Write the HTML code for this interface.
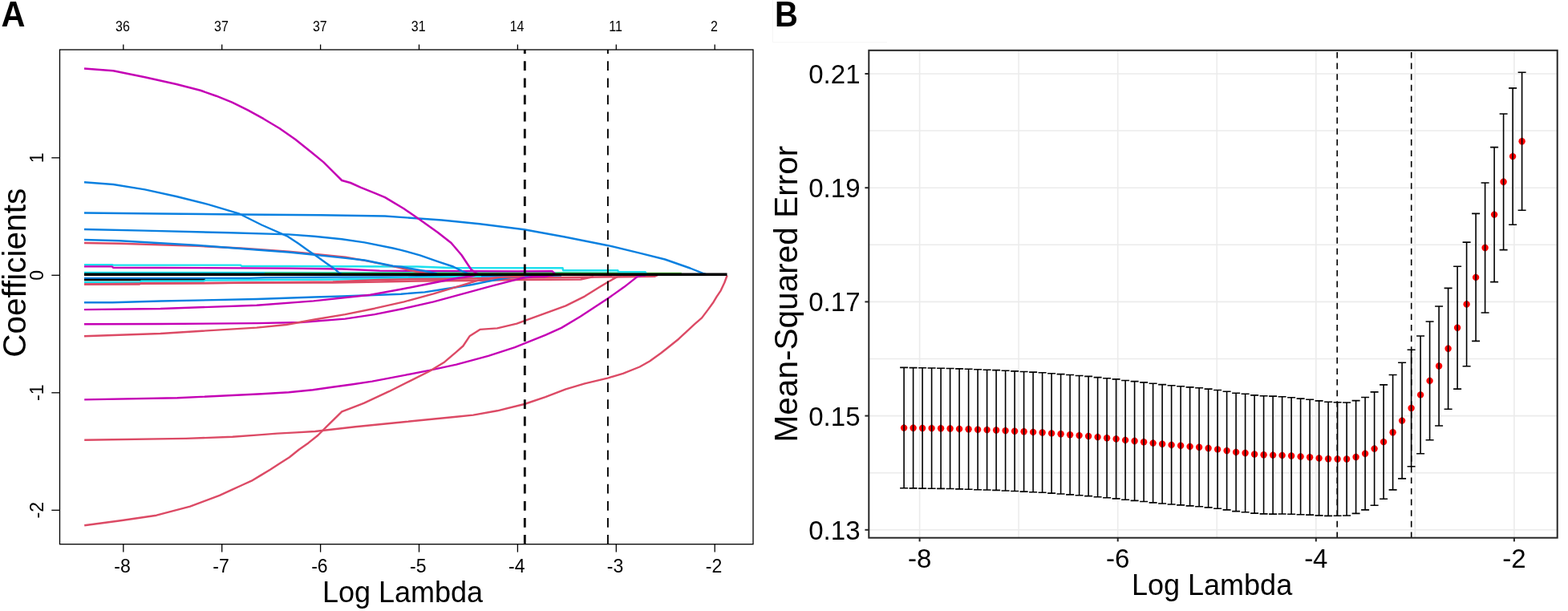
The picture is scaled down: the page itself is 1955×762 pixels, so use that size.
<!DOCTYPE html>
<html><head><meta charset="utf-8"><title>LASSO</title>
<style>html,body{margin:0;padding:0;background:#fff;}body{width:1955px;height:762px;overflow:hidden;position:relative;}</style>
</head><body>
<svg width="1955" height="762" viewBox="0 0 1955 762" style="position:absolute;left:0;top:0">
<rect width="1955" height="762" fill="#fff"/>
<path d="M963.5 0V52.8H1106" fill="none" stroke="#F5F5F5" stroke-width="1"/>
<g stroke-linecap="butt">
<polyline points="105,340 700,340.2 806,340.6" fill="none" stroke="#1CE0EE" stroke-width="2.4" stroke-linejoin="round" />
<polyline points="330,340.6 688,340.4 849.8,340.6" fill="none" stroke="#66E04A" stroke-width="1.6" stroke-linejoin="round" />
<polyline points="105,346.9 311,346.9 330,346.2 420,345.6 520,345.3 578,345.3 600,344.5 660,344.2 700,343.5" fill="none" stroke="#0A80E0" stroke-width="2.4" stroke-linejoin="round" />
<polyline points="105,349 256,349" fill="none" stroke="#000000" stroke-width="2.4" stroke-linejoin="round" />
<polyline points="105,352 174,352 176,350.5 254,350.5 256,349.5 311,349.2 420,348.5 560,345.5 600,344.5" fill="none" stroke="#1CE0EE" stroke-width="2.4" stroke-linejoin="round" />
<polyline points="105,354.4 174,354.4 176,353.3 320,352.6 415,352.5 472,351.5 520,350.5 583,350 640,349 724,348.5 740,345" fill="none" stroke="#DC4A65" stroke-width="2.5" stroke-linejoin="round" />
<polyline points="105,354.4 174,353.8 276,353 320,352.4 415,351.4 472,349.1 520,347.9 583,347.6 640,346.5 724,345.8 816,344.8 820,343" fill="none" stroke="#DC4A65" stroke-width="2.5" stroke-linejoin="round" />
<polyline points="640,345 661.5,345 678.7,345 690,343" fill="none" stroke="#C400B5" stroke-width="2.4" stroke-linejoin="round" />
<polyline points="105,330.2 140,330.2 141,330.6 300,330.6 301,331.8 360,332 520,332.5 560,334 701.6,334.3 702,337.2 770.3,337.2 771,339.3 804.7,339.3 806,341.5" fill="none" stroke="#1CE0EE" stroke-width="2.4" stroke-linejoin="round" />
<polyline points="105,332.4 140,332.4 141,333.7 360,334.6 426.1,335.5 473.4,337.6 520,337.9 645,338.4 688.7,338.3 692,341.5" fill="none" stroke="#C400B5" stroke-width="2.4" stroke-linejoin="round" />
<polyline points="105,303 150,303.8 247.5,306.9 300,309.5 360,313.7 378.9,315.4 430.8,320.7 454.5,324.9 478.1,329.6 500,334.3 520,339 535,341.5" fill="none" stroke="#DC4A65" stroke-width="2.4" stroke-linejoin="round" />
<polyline points="105,299 149,300.2 247.5,306 326.2,312 360,314.5 409.6,319.6 430.8,321.9 454.5,324.5 490,331.7 500,332.8 529.5,338 545,341.5" fill="none" stroke="#0A80E0" stroke-width="2.4" stroke-linejoin="round" />
<polyline points="105,286 180,287.6 286.9,290.3 360,292.4 391.9,294.8 426.1,298.3 454.5,302.4 489.9,309.5 500,311.8 523.6,318.3 547.2,326.6 565,332.5 576.7,338.4 582.7,340.8 586,342" fill="none" stroke="#0A80E0" stroke-width="2.4" stroke-linejoin="round" />
<polyline points="105,265.5 200,266.5 300,267.5 400,268.3 480,269.5 550.9,274.5 598.1,279.2 653.6,286.3 703,295.2 758.2,306.2 797.6,315.6 829.1,323.5 860.6,334.5 876.4,340.8 880,342" fill="none" stroke="#0A80E0" stroke-width="2.4" stroke-linejoin="round" />
<polyline points="105,227.3 141.2,230 180.6,236.4 219.9,245 259.3,254.9 298.7,266.7 326.2,280.5 357.7,294.3 371.8,303.6 383.6,311.9 395.4,320.1 407.2,328.4 416.7,334.9 422.6,340.2 426,342" fill="none" stroke="#0A80E0" stroke-width="2.4" stroke-linejoin="round" />
<polyline points="105,85.6 141.2,88.3 180.6,96.2 219.9,105 250,112.8 269.7,119.7 289.4,127.6 309.1,137.4 328.7,148.2 348.4,160 368.1,173.8 387.8,189.6 403.5,202.4 417.3,216.1 426.2,225 437,228 450,233.9 468,241.1 480,246.1 503.6,260.3 522.5,273.3 546,290 562.6,303 575.6,318.3 582.7,329 587.4,336 592.1,339.6 596,342" fill="none" stroke="#C400B5" stroke-width="2.5" stroke-linejoin="round" />
<polyline points="105,377.2 140,377.2 200,375.5 320,373 391.9,370.5 426.3,369.5 500,366.7 529.5,364.4 559,359.7 588.6,355 606.3,351.4 629.9,346.7 645.2,344.9 660,343.5 665,342.4" fill="none" stroke="#0A80E0" stroke-width="2.4" stroke-linejoin="round" />
<polyline points="105,386.1 200,385 320,380.8 390.9,375.4 461.7,367.8 500,360.8 535.4,353.8 570.8,346.7 588.6,344.3 595,342.4" fill="none" stroke="#C400B5" stroke-width="2.4" stroke-linejoin="round" />
<polyline points="105,404.3 200,404 320,403.1 375.1,402 430.3,397.6 467,392.1 503.8,384.7 540.5,376.3 577.3,366.4 614,356.4 650.8,346.9 665,345 678.7,344.5 690,342.4" fill="none" stroke="#C400B5" stroke-width="2.4" stroke-linejoin="round" />
<polyline points="105,419.2 200,416 320,408.6 356.8,405 393.5,398.3 430.3,392.1 467,384.7 503.8,376.3 540.5,366.4 577.3,355.3 595.6,349.8 620,346 646.3,345 655,343" fill="none" stroke="#DC4A65" stroke-width="2.4" stroke-linejoin="round" />
<polyline points="105.2,498.4 221.2,496.3 326.2,491.3 360,489.3 390,486.3 414.5,482.8 440,479.3 464,475.6 506,467.6 535.4,461.9 569,454.6 608.9,443.8 642,433.1 653.8,428.4 680,417.8 700,408.9 723.6,394.7 757.9,372.3 778,358.1 794.5,345.1 800,343.5 804.7,343.5" fill="none" stroke="#C400B5" stroke-width="2.4" stroke-linejoin="round" />
<polyline points="105.2,548.8 231.7,546.9 290,544.8 323,542.4 345.5,540.6 369.1,539.4 392.8,538 443,532.3 506,526 569,519.7 590,517.6 620,512.3 653.8,504 680,495.2 705.4,485.4 729,478.3 758.4,471.3 776.7,465.8 797.6,457.5 810,450.5 823.9,440.5 833.1,433.2 846.2,422.7 855.4,414.1 865.9,404.3 875.1,396.4 883,385.9 889.6,376.7 893.5,370.2 898.7,362.3 903.3,352.5 906.6,343.5" fill="none" stroke="#DC4A65" stroke-width="2.4" stroke-linejoin="round" />
<polyline points="105.2,655.3 150.4,649.3 195,642.7 237,631.7 273.7,617.8 290,610.3 301.8,605 313.6,599.7 325.4,592.6 337.2,585.5 349.1,577.8 360.9,570.2 372.7,560.7 384.5,552.4 396.3,543 408.1,531.2 426.2,513.4 453.5,502.9 485,488.2 510.2,475.6 535.4,463 554.3,451.4 569,438.8 577.4,431.5 585.8,418.9 598.4,410.9 620,409.4 644.3,403.6 653.8,400.1 680,390.6 705.4,381.4 729,369.6 747.9,357.8 759.7,350.7 769.2,345.5 775,343" fill="none" stroke="#DC4A65" stroke-width="2.4" stroke-linejoin="round" />
</g>
<line x1="105" y1="342.2" x2="906.5" y2="342.2" stroke="#000" stroke-width="3.4"/>
<line x1="654.3" y1="62" x2="654.3" y2="678.7" stroke="#000" stroke-width="2.8" stroke-dasharray="11.8 9.3" stroke-dashoffset="6.8"/>
<line x1="757.9" y1="62" x2="757.9" y2="678.7" stroke="#000" stroke-width="1.9" stroke-dasharray="11.8 9.3" stroke-dashoffset="6.8"/>
<rect x="74.5" y="62" width="864.5" height="616.7" fill="none" stroke="#000" stroke-width="1.3"/>
<line x1="153.8" y1="678.7" x2="153.8" y2="688.6" stroke="#000" stroke-width="1.3"/>
<text x="152.6" y="713.6" font-size="23" text-anchor="middle" font-family='"Liberation Sans", Arial, Helvetica, sans-serif'>-8</text>
<line x1="276.7" y1="678.7" x2="276.7" y2="688.6" stroke="#000" stroke-width="1.3"/>
<text x="275.5" y="713.6" font-size="23" text-anchor="middle" font-family='"Liberation Sans", Arial, Helvetica, sans-serif'>-7</text>
<line x1="399.6" y1="678.7" x2="399.6" y2="688.6" stroke="#000" stroke-width="1.3"/>
<text x="398.4" y="713.6" font-size="23" text-anchor="middle" font-family='"Liberation Sans", Arial, Helvetica, sans-serif'>-6</text>
<line x1="522.5" y1="678.7" x2="522.5" y2="688.6" stroke="#000" stroke-width="1.3"/>
<text x="521.3" y="713.6" font-size="23" text-anchor="middle" font-family='"Liberation Sans", Arial, Helvetica, sans-serif'>-5</text>
<line x1="645.4" y1="678.7" x2="645.4" y2="688.6" stroke="#000" stroke-width="1.3"/>
<text x="644.2" y="713.6" font-size="23" text-anchor="middle" font-family='"Liberation Sans", Arial, Helvetica, sans-serif'>-4</text>
<line x1="768.3" y1="678.7" x2="768.3" y2="688.6" stroke="#000" stroke-width="1.3"/>
<text x="767.1" y="713.6" font-size="23" text-anchor="middle" font-family='"Liberation Sans", Arial, Helvetica, sans-serif'>-3</text>
<line x1="891.2" y1="678.7" x2="891.2" y2="688.6" stroke="#000" stroke-width="1.3"/>
<text x="890" y="713.6" font-size="23" text-anchor="middle" font-family='"Liberation Sans", Arial, Helvetica, sans-serif'>-2</text>
<line x1="153.8" y1="55.5" x2="153.8" y2="62" stroke="#000" stroke-width="1.3"/>
<text transform="translate(153,38.9) scale(1,1.1)" font-size="16" text-anchor="middle" font-family='"Liberation Sans", Arial, Helvetica, sans-serif'>36</text>
<line x1="276.7" y1="55.5" x2="276.7" y2="62" stroke="#000" stroke-width="1.3"/>
<text transform="translate(275.9,38.9) scale(1,1.1)" font-size="16" text-anchor="middle" font-family='"Liberation Sans", Arial, Helvetica, sans-serif'>37</text>
<line x1="399.6" y1="55.5" x2="399.6" y2="62" stroke="#000" stroke-width="1.3"/>
<text transform="translate(398.8,38.9) scale(1,1.1)" font-size="16" text-anchor="middle" font-family='"Liberation Sans", Arial, Helvetica, sans-serif'>37</text>
<line x1="522.5" y1="55.5" x2="522.5" y2="62" stroke="#000" stroke-width="1.3"/>
<text transform="translate(521.7,38.9) scale(1,1.1)" font-size="16" text-anchor="middle" font-family='"Liberation Sans", Arial, Helvetica, sans-serif'>31</text>
<line x1="645.4" y1="55.5" x2="645.4" y2="62" stroke="#000" stroke-width="1.3"/>
<text transform="translate(644.6,38.9) scale(1,1.1)" font-size="16" text-anchor="middle" font-family='"Liberation Sans", Arial, Helvetica, sans-serif'>14</text>
<line x1="768.3" y1="55.5" x2="768.3" y2="62" stroke="#000" stroke-width="1.3"/>
<text transform="translate(767.5,38.9) scale(1,1.1)" font-size="16" text-anchor="middle" font-family='"Liberation Sans", Arial, Helvetica, sans-serif'>11</text>
<line x1="891.2" y1="55.5" x2="891.2" y2="62" stroke="#000" stroke-width="1.3"/>
<text transform="translate(890.4,38.9) scale(1,1.1)" font-size="16" text-anchor="middle" font-family='"Liberation Sans", Arial, Helvetica, sans-serif'>2</text>
<line x1="64.3" y1="636.3" x2="74.5" y2="636.3" stroke="#000" stroke-width="1.3"/>
<text transform="translate(53.8,636.3) rotate(-90)" font-size="23" text-anchor="middle" font-family='"Liberation Sans", Arial, Helvetica, sans-serif'>-2</text>
<line x1="64.3" y1="489.8" x2="74.5" y2="489.8" stroke="#000" stroke-width="1.3"/>
<text transform="translate(53.8,489.8) rotate(-90)" font-size="23" text-anchor="middle" font-family='"Liberation Sans", Arial, Helvetica, sans-serif'>-1</text>
<line x1="64.3" y1="343.3" x2="74.5" y2="343.3" stroke="#000" stroke-width="1.3"/>
<text transform="translate(53.8,343.3) rotate(-90)" font-size="23" text-anchor="middle" font-family='"Liberation Sans", Arial, Helvetica, sans-serif'>0</text>
<line x1="64.3" y1="196.8" x2="74.5" y2="196.8" stroke="#000" stroke-width="1.3"/>
<text transform="translate(53.8,196.8) rotate(-90)" font-size="23" text-anchor="middle" font-family='"Liberation Sans", Arial, Helvetica, sans-serif'>1</text>
<text x="502" y="750.6" font-size="36" text-anchor="middle" font-family='"Liberation Sans", Arial, Helvetica, sans-serif'>Log Lambda</text>
<text transform="translate(32,340.3) rotate(-90)" font-size="40.5" text-anchor="middle" font-family='"Liberation Sans", Arial, Helvetica, sans-serif'>Coefficients</text>
<text transform="translate(1.5,33) scale(0.965,1.04)" font-size="43" font-weight="bold" font-family='"Liberation Sans", Arial, Helvetica, sans-serif'>A</text>
<line x1="1270.1" y1="62.8" x2="1270.1" y2="670.7" stroke="#EBEBEB" stroke-width="1.5"/>
<line x1="1517.2" y1="62.8" x2="1517.2" y2="670.7" stroke="#EBEBEB" stroke-width="1.5"/>
<line x1="1764.3" y1="62.8" x2="1764.3" y2="670.7" stroke="#EBEBEB" stroke-width="1.5"/>
<line x1="1083.3" y1="163.1" x2="1941.7" y2="163.1" stroke="#EBEBEB" stroke-width="1.5"/>
<line x1="1083.3" y1="305.3" x2="1941.7" y2="305.3" stroke="#EBEBEB" stroke-width="1.5"/>
<line x1="1083.3" y1="447.5" x2="1941.7" y2="447.5" stroke="#EBEBEB" stroke-width="1.5"/>
<line x1="1083.3" y1="589.7" x2="1941.7" y2="589.7" stroke="#EBEBEB" stroke-width="1.5"/>
<line x1="1146.6" y1="62.8" x2="1146.6" y2="670.7" stroke="#EBEBEB" stroke-width="1.6"/>
<line x1="1393.7" y1="62.8" x2="1393.7" y2="670.7" stroke="#EBEBEB" stroke-width="1.6"/>
<line x1="1640.8" y1="62.8" x2="1640.8" y2="670.7" stroke="#EBEBEB" stroke-width="1.6"/>
<line x1="1887.9" y1="62.8" x2="1887.9" y2="670.7" stroke="#EBEBEB" stroke-width="1.6"/>
<line x1="1083.3" y1="92" x2="1941.7" y2="92" stroke="#EBEBEB" stroke-width="1.6"/>
<line x1="1083.3" y1="234.2" x2="1941.7" y2="234.2" stroke="#EBEBEB" stroke-width="1.6"/>
<line x1="1083.3" y1="376.4" x2="1941.7" y2="376.4" stroke="#EBEBEB" stroke-width="1.6"/>
<line x1="1083.3" y1="518.6" x2="1941.7" y2="518.6" stroke="#EBEBEB" stroke-width="1.6"/>
<line x1="1083.3" y1="660.8" x2="1941.7" y2="660.8" stroke="#EBEBEB" stroke-width="1.6"/>
<line x1="1667.2" y1="62.8" x2="1667.2" y2="670.7" stroke="#000" stroke-width="1.6" stroke-dasharray="7.6 6" stroke-dashoffset="-2.2"/>
<line x1="1759.7" y1="62.8" x2="1759.7" y2="670.7" stroke="#000" stroke-width="1.6" stroke-dasharray="7.6 6" stroke-dashoffset="-2.2"/>
<path d="M1127.1 458.4V608.8M1122.1 458.4H1132.1M1122.1 608.8H1132.1M1138.6 458.6V608.9M1133.6 458.6H1143.6M1133.6 608.9H1143.6M1150.1 458.8V609.1M1145.1 458.8H1155.1M1145.1 609.1H1155.1M1161.6 459V609.2M1156.6 459H1166.6M1156.6 609.2H1166.6M1173.1 459.2V609.4M1168.1 459.2H1178.1M1168.1 609.4H1178.1M1184.6 459.5V609.5M1179.6 459.5H1189.6M1179.6 609.5H1189.6M1196.1 459.9V609.9M1191.1 459.9H1201.1M1191.1 609.9H1201.1M1207.6 460.3V610.3M1202.6 460.3H1212.6M1202.6 610.3H1212.6M1219.1 460.7V610.7M1214.1 460.7H1224.1M1214.1 610.7H1224.1M1230.6 461.2V611M1225.6 461.2H1235.6M1225.6 611H1235.6M1242.1 461.6V611.4M1237.1 461.6H1247.1M1237.1 611.4H1247.1M1253.6 462.2V612M1248.6 462.2H1258.6M1248.6 612H1258.6M1265.1 462.9V612.5M1260.1 462.9H1270.1M1260.1 612.5H1270.1M1276.6 463.5V613.1M1271.6 463.5H1281.6M1271.6 613.1H1281.6M1288.1 464.1V613.7M1283.1 464.1H1293.1M1283.1 613.7H1293.1M1299.6 464.8V614.2M1294.6 464.8H1304.6M1294.6 614.2H1304.6M1311.1 465.7V615.1M1306.1 465.7H1316.1M1306.1 615.1H1316.1M1322.6 466.6V616M1317.6 466.6H1327.6M1317.6 616H1327.6M1334.1 467.5V616.9M1329.1 467.5H1339.1M1329.1 616.9H1339.1M1345.6 468.5V617.7M1340.6 468.5H1350.6M1340.6 617.7H1350.6M1357.1 469.4V618.6M1352.1 469.4H1362.1M1352.1 618.6H1362.1M1368.6 470.6V619.7M1363.6 470.6H1373.6M1363.6 619.7H1373.6M1380.1 471.8V620.8M1375.1 471.8H1385.1M1375.1 620.8H1385.1M1391.6 472.9V621.9M1386.6 472.9H1396.6M1386.6 621.9H1396.6M1403.1 474.5V623.3M1398.1 474.5H1408.1M1398.1 623.3H1408.1M1414.6 475.6V624.4M1409.6 475.6H1419.6M1409.6 624.4H1419.6M1426.1 476.9V625.5M1421.1 476.9H1431.1M1421.1 625.5H1431.1M1437.6 478.3V626.9M1432.6 478.3H1442.6M1432.6 626.9H1442.6M1449.1 479.6V628M1444.1 479.6H1454.1M1444.1 628H1454.1M1460.6 480.8V629M1455.6 480.8H1465.6M1455.6 629H1465.6M1472.1 481.7V629.9M1467.1 481.7H1477.1M1467.1 629.9H1477.1M1483.6 482.9V630.9M1478.6 482.9H1488.6M1478.6 630.9H1488.6M1495.1 483.8V631.8M1490.1 483.8H1500.1M1490.1 631.8H1500.1M1506.6 485.1V632.9M1501.6 485.1H1511.6M1501.6 632.9H1511.6M1518.1 486.5V634.3M1513.1 486.5H1523.1M1513.1 634.3H1523.1M1529.6 488.3V635.9M1524.6 488.3H1534.6M1524.6 635.9H1534.6M1541.1 490.2V637.6M1536.1 490.2H1546.1M1536.1 637.6H1546.1M1552.6 491.3V638.7M1547.6 491.3H1557.6M1547.6 638.7H1557.6M1564.1 492.9V640.1M1559.1 492.9H1569.1M1559.1 640.1H1569.1M1575.6 493.7V640.9M1570.6 493.7H1580.6M1570.6 640.9H1580.6M1587.1 494.1V641.1M1582.1 494.1H1592.1M1582.1 641.1H1592.1M1598.6 494.8V641M1593.6 494.8H1603.6M1593.6 641H1603.6M1610.1 495.8V641.2M1605.1 495.8H1615.1M1605.1 641.2H1615.1M1621.6 497.1V641.7M1616.6 497.1H1626.6M1616.6 641.7H1626.6M1633.1 498.3V642.1M1628.1 498.3H1638.1M1628.1 642.1H1638.1M1644.6 499.9V642.9M1639.6 499.9H1649.6M1639.6 642.9H1649.6M1656.1 501.2V643.4M1651.1 501.2H1661.1M1651.1 643.4H1661.1M1667.6 501.8V643.2M1662.6 501.8H1672.6M1662.6 643.2H1672.6M1679.1 502V643M1674.1 502H1684.1M1674.1 643H1684.1M1690.6 499.6V640.4M1685.6 499.6H1695.6M1685.6 640.4H1695.6M1702.1 495.5V635.9M1697.1 495.5H1707.1M1697.1 635.9H1707.1M1713.6 488.9V630.3M1708.6 488.9H1718.6M1708.6 630.3H1718.6M1725.1 479.9V622.3M1720.1 479.9H1730.1M1720.1 622.3H1730.1M1736.6 467.5V610.9M1731.6 467.5H1741.6M1731.6 610.9H1741.6M1748.1 452.3V596.9M1743.1 452.3H1753.1M1743.1 596.9H1753.1M1759.6 436.2V581.8M1754.6 436.2H1764.6M1754.6 581.8H1764.6M1771.1 419V565.8M1766.1 419H1776.1M1766.1 565.8H1776.1M1782.6 401V548.8M1777.6 401H1787.6M1777.6 548.8H1787.6M1794.1 382V531M1789.1 382H1799.1M1789.1 531H1799.1M1805.6 359.4V510.2M1800.6 359.4H1810.6M1800.6 510.2H1810.6M1817.1 332.3V485.1M1812.1 332.3H1822.1M1812.1 485.1H1822.1M1828.6 302.1V456.7M1823.6 302.1H1833.6M1823.6 456.7H1833.6M1840.1 266.4V425.4M1835.1 266.4H1845.1M1835.1 425.4H1845.1M1851.6 228V390M1846.6 228H1856.6M1846.6 390H1856.6M1863.1 183.6V351.6M1858.1 183.6H1868.1M1858.1 351.6H1868.1M1874.6 142V311.6M1869.6 142H1879.6M1869.6 311.6H1879.6M1886.1 109.9V280.3M1881.1 109.9H1891.1M1881.1 280.3H1891.1M1897.6 90.3V262.3M1892.6 90.3H1902.6M1892.6 262.3H1902.6" fill="none" stroke="#000" stroke-width="1.6"/>
<circle cx="1127.1" cy="533.6" r="4.2" fill="#FF0000"/>
<circle cx="1138.6" cy="533.8" r="4.2" fill="#FF0000"/>
<circle cx="1150.1" cy="534" r="4.2" fill="#FF0000"/>
<circle cx="1161.6" cy="534.1" r="4.2" fill="#FF0000"/>
<circle cx="1173.1" cy="534.3" r="4.2" fill="#FF0000"/>
<circle cx="1184.6" cy="534.5" r="4.2" fill="#FF0000"/>
<circle cx="1196.1" cy="534.9" r="4.2" fill="#FF0000"/>
<circle cx="1207.6" cy="535.3" r="4.2" fill="#FF0000"/>
<circle cx="1219.1" cy="535.7" r="4.2" fill="#FF0000"/>
<circle cx="1230.6" cy="536.1" r="4.2" fill="#FF0000"/>
<circle cx="1242.1" cy="536.5" r="4.2" fill="#FF0000"/>
<circle cx="1253.6" cy="537.1" r="4.2" fill="#FF0000"/>
<circle cx="1265.1" cy="537.7" r="4.2" fill="#FF0000"/>
<circle cx="1276.6" cy="538.3" r="4.2" fill="#FF0000"/>
<circle cx="1288.1" cy="538.9" r="4.2" fill="#FF0000"/>
<circle cx="1299.6" cy="539.5" r="4.2" fill="#FF0000"/>
<circle cx="1311.1" cy="540.4" r="4.2" fill="#FF0000"/>
<circle cx="1322.6" cy="541.3" r="4.2" fill="#FF0000"/>
<circle cx="1334.1" cy="542.2" r="4.2" fill="#FF0000"/>
<circle cx="1345.6" cy="543.1" r="4.2" fill="#FF0000"/>
<circle cx="1357.1" cy="544" r="4.2" fill="#FF0000"/>
<circle cx="1368.6" cy="545.1" r="4.2" fill="#FF0000"/>
<circle cx="1380.1" cy="546.3" r="4.2" fill="#FF0000"/>
<circle cx="1391.6" cy="547.4" r="4.2" fill="#FF0000"/>
<circle cx="1403.1" cy="548.9" r="4.2" fill="#FF0000"/>
<circle cx="1414.6" cy="550" r="4.2" fill="#FF0000"/>
<circle cx="1426.1" cy="551.2" r="4.2" fill="#FF0000"/>
<circle cx="1437.6" cy="552.6" r="4.2" fill="#FF0000"/>
<circle cx="1449.1" cy="553.8" r="4.2" fill="#FF0000"/>
<circle cx="1460.6" cy="554.9" r="4.2" fill="#FF0000"/>
<circle cx="1472.1" cy="555.8" r="4.2" fill="#FF0000"/>
<circle cx="1483.6" cy="556.9" r="4.2" fill="#FF0000"/>
<circle cx="1495.1" cy="557.8" r="4.2" fill="#FF0000"/>
<circle cx="1506.6" cy="559" r="4.2" fill="#FF0000"/>
<circle cx="1518.1" cy="560.4" r="4.2" fill="#FF0000"/>
<circle cx="1529.6" cy="562.1" r="4.2" fill="#FF0000"/>
<circle cx="1541.1" cy="563.9" r="4.2" fill="#FF0000"/>
<circle cx="1552.6" cy="565" r="4.2" fill="#FF0000"/>
<circle cx="1564.1" cy="566.5" r="4.2" fill="#FF0000"/>
<circle cx="1575.6" cy="567.3" r="4.2" fill="#FF0000"/>
<circle cx="1587.1" cy="567.6" r="4.2" fill="#FF0000"/>
<circle cx="1598.6" cy="567.9" r="4.2" fill="#FF0000"/>
<circle cx="1610.1" cy="568.5" r="4.2" fill="#FF0000"/>
<circle cx="1621.6" cy="569.4" r="4.2" fill="#FF0000"/>
<circle cx="1633.1" cy="570.2" r="4.2" fill="#FF0000"/>
<circle cx="1644.6" cy="571.4" r="4.2" fill="#FF0000"/>
<circle cx="1656.1" cy="572.3" r="4.2" fill="#FF0000"/>
<circle cx="1667.6" cy="572.5" r="4.2" fill="#FF0000"/>
<circle cx="1679.1" cy="572.5" r="4.2" fill="#FF0000"/>
<circle cx="1690.6" cy="570" r="4.2" fill="#FF0000"/>
<circle cx="1702.1" cy="565.7" r="4.2" fill="#FF0000"/>
<circle cx="1713.6" cy="559.6" r="4.2" fill="#FF0000"/>
<circle cx="1725.1" cy="551.1" r="4.2" fill="#FF0000"/>
<circle cx="1736.6" cy="539.2" r="4.2" fill="#FF0000"/>
<circle cx="1748.1" cy="524.6" r="4.2" fill="#FF0000"/>
<circle cx="1759.6" cy="509" r="4.2" fill="#FF0000"/>
<circle cx="1771.1" cy="492.4" r="4.2" fill="#FF0000"/>
<circle cx="1782.6" cy="474.9" r="4.2" fill="#FF0000"/>
<circle cx="1794.1" cy="456.5" r="4.2" fill="#FF0000"/>
<circle cx="1805.6" cy="434.8" r="4.2" fill="#FF0000"/>
<circle cx="1817.1" cy="408.7" r="4.2" fill="#FF0000"/>
<circle cx="1828.6" cy="379.4" r="4.2" fill="#FF0000"/>
<circle cx="1840.1" cy="345.9" r="4.2" fill="#FF0000"/>
<circle cx="1851.6" cy="309" r="4.2" fill="#FF0000"/>
<circle cx="1863.1" cy="267.6" r="4.2" fill="#FF0000"/>
<circle cx="1874.6" cy="226.8" r="4.2" fill="#FF0000"/>
<circle cx="1886.1" cy="195.1" r="4.2" fill="#FF0000"/>
<circle cx="1897.6" cy="176.3" r="4.2" fill="#FF0000"/>
<path d="M1127.1 529.1V538.1M1138.6 529.3V538.3M1150.1 529.5V538.5M1161.6 529.6V538.6M1173.1 529.8V538.8M1184.6 530V539M1196.1 530.4V539.4M1207.6 530.8V539.8M1219.1 531.2V540.2M1230.6 531.6V540.6M1242.1 532V541M1253.6 532.6V541.6M1265.1 533.2V542.2M1276.6 533.8V542.8M1288.1 534.4V543.4M1299.6 535V544M1311.1 535.9V544.9M1322.6 536.8V545.8M1334.1 537.7V546.7M1345.6 538.6V547.6M1357.1 539.5V548.5M1368.6 540.6V549.6M1380.1 541.8V550.8M1391.6 542.9V551.9M1403.1 544.4V553.4M1414.6 545.5V554.5M1426.1 546.7V555.7M1437.6 548.1V557.1M1449.1 549.3V558.3M1460.6 550.4V559.4M1472.1 551.3V560.3M1483.6 552.4V561.4M1495.1 553.3V562.3M1506.6 554.5V563.5M1518.1 555.9V564.9M1529.6 557.6V566.6M1541.1 559.4V568.4M1552.6 560.5V569.5M1564.1 562V571M1575.6 562.8V571.8M1587.1 563.1V572.1M1598.6 563.4V572.4M1610.1 564V573M1621.6 564.9V573.9M1633.1 565.7V574.7M1644.6 566.9V575.9M1656.1 567.8V576.8M1667.6 568V577M1679.1 568V577M1690.6 565.5V574.5M1702.1 561.2V570.2M1713.6 555.1V564.1M1725.1 546.6V555.6M1736.6 534.7V543.7M1748.1 520.1V529.1M1759.6 504.5V513.5M1771.1 487.9V496.9M1782.6 470.4V479.4M1794.1 452V461M1805.6 430.3V439.3M1817.1 404.2V413.2M1828.6 374.9V383.9M1840.1 341.4V350.4M1851.6 304.5V313.5M1863.1 263.1V272.1M1874.6 222.3V231.3M1886.1 190.6V199.6M1897.6 171.8V180.8" fill="none" stroke="#000" stroke-width="1.6"/>
<rect x="1083.3" y="62.8" width="858.4" height="607.9" fill="none" stroke="#262626" stroke-width="2"/>
<line x1="1146.6" y1="670.7" x2="1146.6" y2="675.4" stroke="#262626" stroke-width="2"/>
<text x="1146.6" y="707.6" font-size="33" text-anchor="middle" font-family='"Liberation Sans", Arial, Helvetica, sans-serif'>-8</text>
<line x1="1393.7" y1="670.7" x2="1393.7" y2="675.4" stroke="#262626" stroke-width="2"/>
<text x="1393.7" y="707.6" font-size="33" text-anchor="middle" font-family='"Liberation Sans", Arial, Helvetica, sans-serif'>-6</text>
<line x1="1640.8" y1="670.7" x2="1640.8" y2="675.4" stroke="#262626" stroke-width="2"/>
<text x="1640.8" y="707.6" font-size="33" text-anchor="middle" font-family='"Liberation Sans", Arial, Helvetica, sans-serif'>-4</text>
<line x1="1887.9" y1="670.7" x2="1887.9" y2="675.4" stroke="#262626" stroke-width="2"/>
<text x="1887.9" y="707.6" font-size="33" text-anchor="middle" font-family='"Liberation Sans", Arial, Helvetica, sans-serif'>-2</text>
<line x1="1078.4" y1="92" x2="1083.3" y2="92" stroke="#262626" stroke-width="2"/>
<text x="1072.5" y="103.9" font-size="33" text-anchor="end" font-family='"Liberation Sans", Arial, Helvetica, sans-serif'>0.21</text>
<line x1="1078.4" y1="234.2" x2="1083.3" y2="234.2" stroke="#262626" stroke-width="2"/>
<text x="1072.5" y="246.1" font-size="33" text-anchor="end" font-family='"Liberation Sans", Arial, Helvetica, sans-serif'>0.19</text>
<line x1="1078.4" y1="376.4" x2="1083.3" y2="376.4" stroke="#262626" stroke-width="2"/>
<text x="1072.5" y="388.3" font-size="33" text-anchor="end" font-family='"Liberation Sans", Arial, Helvetica, sans-serif'>0.17</text>
<line x1="1078.4" y1="518.6" x2="1083.3" y2="518.6" stroke="#262626" stroke-width="2"/>
<text x="1072.5" y="530.5" font-size="33" text-anchor="end" font-family='"Liberation Sans", Arial, Helvetica, sans-serif'>0.15</text>
<line x1="1078.4" y1="660.8" x2="1083.3" y2="660.8" stroke="#262626" stroke-width="2"/>
<text x="1072.5" y="672.7" font-size="33" text-anchor="end" font-family='"Liberation Sans", Arial, Helvetica, sans-serif'>0.13</text>
<text x="1511.1" y="742.3" font-size="36" text-anchor="middle" font-family='"Liberation Sans", Arial, Helvetica, sans-serif'>Log Lambda</text>
<text transform="translate(994.1,366.6) rotate(-90)" font-size="40.6" text-anchor="middle" font-family='"Liberation Sans", Arial, Helvetica, sans-serif'>Mean-Squared Error</text>
<text transform="translate(966,33) scale(0.93,1.04)" font-size="43" font-weight="bold" font-family='"Liberation Sans", Arial, Helvetica, sans-serif'>B</text>
</svg>
</body></html>
